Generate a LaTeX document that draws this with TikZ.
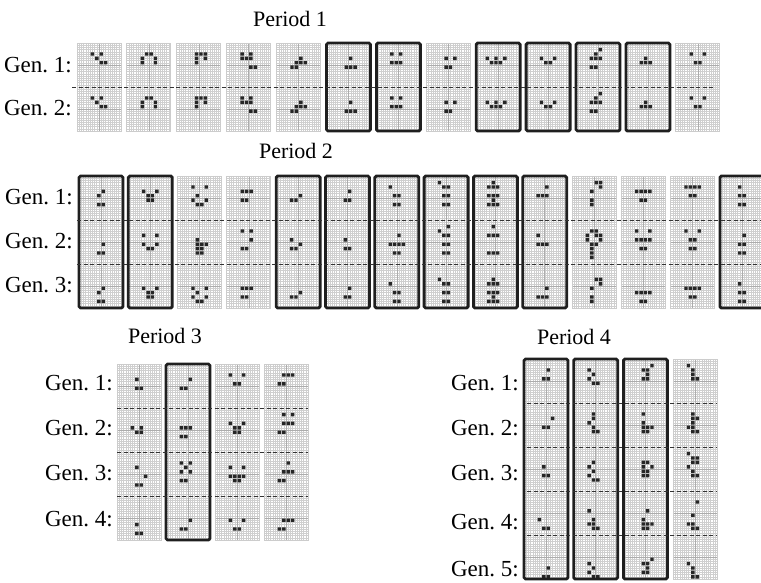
\documentclass[tikz,border=0pt]{standalone}
\usepackage{fontspec}
\setmainfont{Liberation Serif}
\frenchspacing

\tikzset{
  genlabel/.style={anchor=east, inner sep=0pt, font=\fontsize{23}{23}\selectfont},
  periodlabel/.style={inner sep=0pt, font=\fontsize{22}{22}\selectfont},
  finegrid/.style={draw=gray!38, line width=0.3pt},
  axisline/.style={draw=gray!65, line width=0.5pt},
  lightbox/.style={draw=gray!40, line width=0.9pt},
  boldbox/.style={draw=black!88, line width=2.8pt, rounded corners=1.5pt},
  genline/.style={draw=black!80, dash pattern=on 4pt off 2.5pt, line width=0.7pt},
  livecell/.style={fill=black!85},
}

% one panel: x, top, number of generations
\newcommand{\capanel}[3]{%
  \pgfmathsetmacro{\ph}{44*#3}
  \pgfmathtruncatemacro{\nh}{20*#3-1}
  \fill[white] (#1,#2) rectangle ++(44,\ph);
  \draw[finegrid] \foreach \i in {1,...,19} {(#1+\i*2.2,#2) -- ++(0,\ph)};
  \draw[finegrid] \foreach \j in {1,...,\nh} {(#1,#2+\j*2.2) -- ++(44,0)};
  \draw[axisline] (#1+22,#2) -- ++(0,\ph);
  \draw[axisline] \foreach \g in {1,...,#3} {(#1,#2+\g*44-22) -- ++(44,0)};
  \draw[lightbox] (#1,#2) rectangle ++(44,\ph);
}
% live cells: x, top, generation, list col/row
\newcommand{\livecells}[4]{%
  \fill[livecell] \foreach \c/\r in {#4}
    {(#1+\c*4.4+0.5,#2+#3*44-44+\r*4.4+0.5) rectangle ++(3.4,3.4)};
}

\begin{document}
\begin{tikzpicture}[x=1pt,y=-1pt]
\useasboundingbox (0,0) rectangle (761,583);

% ---- Period 1
\node[periodlabel] (per1) at (290,19) {Period 1};
\node[genlabel] (p1g1) at (72,65) {Gen. 1:};
\node[genlabel] (p1g2) at (72,108) {Gen. 2:};
\foreach \k in {0,...,12} {\capanel{77+\k*49.9}{43}{2}}
\foreach \g in {1,2} {
  \livecells{77}{43}{\g}{3/2,5/2,4/3,5/4,6/4}
  \livecells{126.9}{43}{\g}{4/2,5/2,3/3,6/3,3/4,6/4}
  \livecells{176.8}{43}{\g}{4/2,5/2,6/2,4/3,6/3,4/4}
  \livecells{226.7}{43}{\g}{3/2,5/2,3/3,4/3,5/3,5/5,6/5}
  \livecells{276.6}{43}{\g}{5/3,4/4,5/4,6/4,3/5,4/5}
  \livecells{326.5}{43}{\g}{5/3,4/5,5/5,6/5}
  \livecells{376.4}{43}{\g}{3/2,5/2,3/4,4/4,5/4}
  \livecells{426.3}{43}{\g}{4/3,6/3,4/5,5/5}
  \livecells{476.2}{43}{\g}{2/3,4/3,6/3,3/4,4/4,5/4}
  \livecells{526.1}{43}{\g}{3/3,6/3,4/4,5/4}
  \livecells{576}{43}{\g}{5/1,4/2,3/3,4/3,5/3,3/5,4/5}
  \livecells{625.9}{43}{\g}{4/3,3/4,4/4,5/4}
  \livecells{675.8}{43}{\g}{3/2,6/2,4/4,5/4}
}
\foreach \k in {5,6,8,9,10,11} {\draw[boldbox] (77+\k*49.9,43) rectangle ++(44,88);}
\draw[genline] (72,87) -- (713,87);

% ---- Period 2
\node[periodlabel] (per2) at (296,151) {Period 2};
\node[genlabel] (p2g1) at (73,197) {Gen. 1:};
\node[genlabel] (p2g2) at (73,241) {Gen. 2:};
\node[genlabel] (p2g3) at (73,285) {Gen. 3:};
\foreach \k in {0,...,13} {\capanel{79+\k*49.3}{176}{3}}
\livecells{79}{176}{1}{5/3,4/4,4/6,5/6}
\livecells{79}{176}{2}{5/5,4/7,5/7}
\livecells{79}{176}{3}{5/5,4/6,4/8,5/8}
\livecells{128.3}{176}{1}{3/3,6/3,4/4,5/4,4/5,5/5}
\livecells{128.3}{176}{2}{3/3,6/3,3/5,6/5,4/6,5/6}
\livecells{128.3}{176}{3}{3/5,6/5,4/6,5/6,4/7,5/7}
\livecells{177.6}{176}{1}{3/2,6/2,4/4,3/5,6/5,4/6,5/6}
\livecells{177.6}{176}{2}{4/4,4/5,5/5,6/5,4/6,5/6,4/7,5/7}
\livecells{177.6}{176}{3}{3/5,6/5,4/6,3/7,6/7,4/8,5/8}
\livecells{226.9}{176}{1}{3/3,4/3,5/3,3/5,4/5}
\livecells{226.9}{176}{2}{3/2,5/2,5/4,3/6,4/6}
\livecells{226.9}{176}{3}{3/5,4/5,5/5,3/7,4/7}
\livecells{276.2}{176}{1}{5/4,3/5,4/5}
\livecells{276.2}{176}{2}{3/4,5/5,3/6,4/6}
\livecells{276.2}{176}{3}{5/6,3/7,4/7}
\livecells{325.5}{176}{1}{5/3,4/5,5/5}
\livecells{325.5}{176}{2}{4/4,4/6,5/6}
\livecells{325.5}{176}{3}{5/5,4/7,5/7}
\livecells{374.8}{176}{1}{3/2,4/4,5/4,4/6,5/6}
\livecells{374.8}{176}{2}{5/3,3/5,4/5,5/5,6/5,4/7,5/7}
\livecells{374.8}{176}{3}{3/4,4/6,5/6,4/8,5/8}
\livecells{424.1}{176}{1}{3/1,4/2,5/2,4/4,5/4,4/6,5/6}
\livecells{424.1}{176}{2}{5/1,3/2,4/3,5/3,4/5,5/5,4/7,5/7}
\livecells{424.1}{176}{3}{3/3,4/4,5/4,4/6,5/6,4/8,5/8}
\livecells{473.4}{176}{1}{4/1,3/2,4/2,5/2,3/4,4/4,5/4,4/5,3/6,4/6,5/6}
\livecells{473.4}{176}{2}{4/1,3/3,4/3,5/3,3/7,4/7,5/7}
\livecells{473.4}{176}{3}{4/3,3/4,4/4,5/4,3/6,4/6,5/6,4/7,3/8,4/8,5/8}
\livecells{522.7}{176}{1}{5/2,3/4,4/4,5/4}
\livecells{522.7}{176}{2}{3/3,3/5,4/5,5/5}
\livecells{522.7}{176}{3}{5/5,3/7,4/7,5/7}
\livecells{572}{176}{1}{5/1,6/1,6/2,4/3,4/5,4/6}
\livecells{572}{176}{2}{4/2,5/2,3/3,5/3,6/3,3/4,6/4,4/5,5/5,4/6,4/7,4/8}
\livecells{572}{176}{3}{5/3,6/3,6/4,4/5,4/7,4/8}
\livecells{621.3}{176}{1}{3/3,4/3,5/3,6/3,4/5,5/5}
\livecells{621.3}{176}{2}{3/2,6/2,3/4,4/4,5/4,6/4,4/6,5/6}
\livecells{621.3}{176}{3}{3/6,4/6,5/6,6/6,4/8,5/8}
\livecells{670.6}{176}{1}{3/2,4/2,5/2,6/2,4/4,5/4}
\livecells{670.6}{176}{2}{3/2,6/2,4/4,5/4,4/6,5/6}
\livecells{670.6}{176}{3}{3/5,4/5,5/5,6/5,4/7,5/7}
\livecells{719.9}{176}{1}{4/2,4/4,5/4,4/6,5/6}
\livecells{719.9}{176}{2}{5/3,4/5,5/5,4/7,5/7}
\livecells{719.9}{176}{3}{4/4,4/6,5/6,4/8,5/8}
\foreach \k in {0,1,4,5,6,7,8,9,13} {\draw[boldbox] (79+\k*49.3,176) rectangle ++(44,132);}
\draw[genline] (77,220) -- (761,220);
\draw[genline] (77,264) -- (761,264);

% ---- Period 3
\node[periodlabel] (per3) at (165,336) {Period 3};
\node[genlabel] (p3g1) at (113,383) {Gen. 1:};
\node[genlabel] (p3g2) at (113,428) {Gen. 2:};
\node[genlabel] (p3g3) at (113,473) {Gen. 3:};
\node[genlabel] (p3g4) at (113,519) {Gen. 4:};
\foreach \k in {0,...,3} {\capanel{117+\k*49}{364}{4}}
\livecells{117}{364}{1}{4/3,4/5,5/5}
\livecells{117}{364}{2}{3/4,5/4,4/5,5/5}
\livecells{117}{364}{3}{4/3,6/5,4/7,5/7}
\livecells{117}{364}{4}{4/6,4/8,5/8}
\livecells{166}{364}{1}{5/3,3/5,4/5}
\livecells{166}{364}{2}{3/4,4/4,5/4,3/6,4/6}
\livecells{166}{364}{3}{3/2,5/2,4/3,3/4,5/4,3/6,4/6}
\livecells{166}{364}{4}{5/5,3/7,4/7}
\livecells{215}{364}{1}{3/2,6/2,4/4,5/4}
\livecells{215}{364}{2}{3/3,6/3,4/4,5/4,4/5,5/5}
\livecells{215}{364}{3}{3/3,6/3,3/5,4/5,5/5,6/5,4/6,5/6}
\livecells{215}{364}{4}{3/5,6/5,4/7,5/7}
\livecells{264}{364}{1}{4/2,5/2,6/2,3/4,4/4}
\livecells{264}{364}{2}{4/1,6/1,4/3,5/3,6/3,3/5,4/5}
\livecells{264}{364}{3}{5/2,4/4,5/4,6/4,3/6,4/6}
\livecells{264}{364}{4}{4/5,5/5,6/5,3/7,4/7}
\draw[boldbox] (166,364) rectangle ++(44,176);
\foreach \y in {408,452,496} {\draw[genline] (117,\y) -- (308,\y);}

% ---- Period 4
\node[periodlabel] (per4) at (574,337) {Period 4};
\node[genlabel] (p4g1) at (519,383) {Gen. 1:};
\node[genlabel] (p4g2) at (519,428) {Gen. 2:};
\node[genlabel] (p4g3) at (519,473) {Gen. 3:};
\node[genlabel] (p4g4) at (519,522) {Gen. 4:};
\node[genlabel] (p4g5) at (519,569) {Gen. 5:};
\foreach \k in {0,...,3} {\capanel{524+\k*49.7}{359}{5}}
\livecells{524}{359}{1}{5/2,4/4,5/4}
\livecells{524}{359}{2}{6/3,4/5,5/5}
\livecells{524}{359}{3}{4/4,4/6,5/6}
\livecells{524}{359}{4}{3/6,4/8,5/8}
\livecells{524}{359}{5}{5/7,4/9,5/9}
\livecells{573.7}{359}{1}{3/2,4/3,3/4,4/5,5/5}
\livecells{573.7}{359}{2}{4/2,4/3,3/4,4/5,4/6,5/6}
\livecells{573.7}{359}{3}{4/3,3/4,4/5,3/6,4/7,5/7}
\livecells{573.7}{359}{4}{3/4,4/6,3/7,4/7,4/8,5/8}
\livecells{573.7}{359}{5}{3/6,4/7,3/8,4/9,5/9}
\livecells{623.4}{359}{1}{6/1,4/2,5/2,5/3,4/4,5/4}
\livecells{623.4}{359}{2}{4/2,4/4,4/5,5/5,6/5,4/6,5/6}
\livecells{623.4}{359}{3}{4/3,5/3,4/4,6/4,4/5,5/5,4/6,5/6}
\livecells{623.4}{359}{4}{5/4,4/6,4/7,5/7,6/7,4/8,5/8}
\livecells{623.4}{359}{5}{6/5,4/6,5/6,5/7,4/8,5/8}
\livecells{673.1}{359}{1}{3/1,4/2,4/3,4/4,5/4}
\livecells{673.1}{359}{2}{4/2,4/3,5/3,4/4,3/5,4/5,4/6,5/6}
\livecells{673.1}{359}{3}{3/1,4/2,5/2,4/3,5/3,3/4,4/5,4/6,5/6}
\livecells{673.1}{359}{4}{5/2,4/5,3/7,4/7,4/8,5/8}
\livecells{673.1}{359}{5}{3/6,4/7,4/8,4/9,5/9}
\foreach \k in {0,1,2} {\draw[boldbox] (524+\k*49.7,359) rectangle ++(44,220);}
\foreach \y in {403,447,491,535} {\draw[genline] (527,\y) -- (717,\y);}
\end{tikzpicture}
\end{document}
